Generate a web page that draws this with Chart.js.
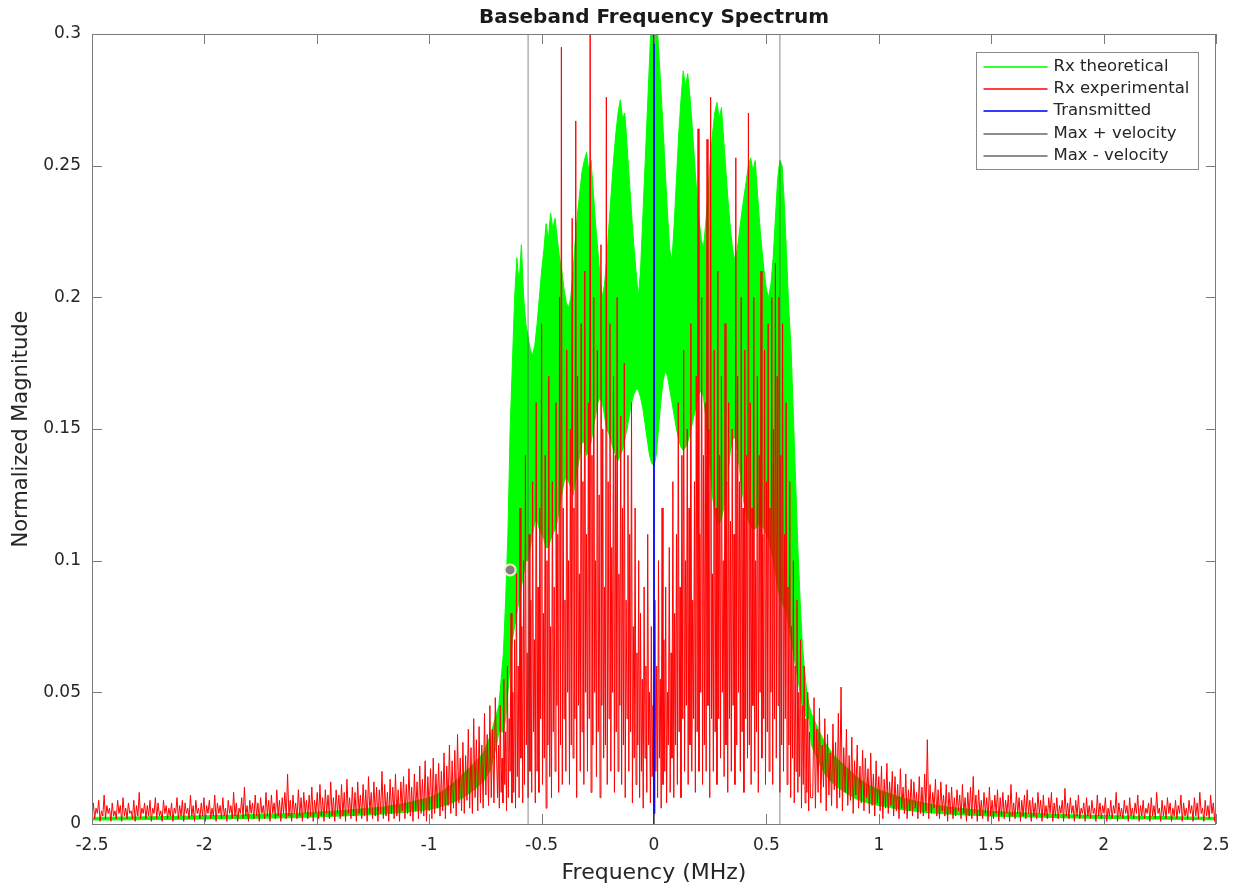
<!DOCTYPE html>
<html>
<head>
<meta charset="utf-8">
<title>Baseband Frequency Spectrum</title>
<script src="https://cdn.jsdelivr.net/npm/chart.js"></script>
<style>
  html, body { margin: 0; padding: 0; background: #fff; }
  #wrap { width: 1244px; height: 890px; }
</style>
</head>
<body>
<div id="wrap"><canvas id="spectrum" width="1244" height="890"></canvas></div>
<script>
// ---- data (frequency in MHz, normalized magnitude) ----

// Rx theoretical: tails outside the band, filled envelope inside it
const greenTailLeftFreq = [-2.5, -2.2, -1.9, -1.6, -1.4, -1.2, -1.1, -1.0, -0.95, -0.9, -0.85, -0.8, -0.76, -0.73, -0.70];
const greenTailLeftUpper = [0.0025, 0.0028, 0.0033, 0.004, 0.005, 0.0065, 0.008, 0.01, 0.012, 0.015, 0.019, 0.023, 0.027, 0.033, 0.042];
const greenTailLeftLower = [0.0015, 0.0017, 0.002, 0.0024, 0.003, 0.0038, 0.0045, 0.0055, 0.0065, 0.008, 0.01, 0.013, 0.016, 0.02, 0.03];
const greenTailRightFreq = [0.70, 0.73, 0.76, 0.8, 0.85, 0.9, 0.95, 1.0, 1.1, 1.2, 1.3, 1.5, 1.8, 2.1, 2.5];
const greenTailRightUpper = [0.042, 0.036, 0.031, 0.026, 0.022, 0.018, 0.015, 0.013, 0.01, 0.008, 0.0065, 0.0048, 0.0036, 0.003, 0.0025];
const greenTailRightLower = [0.03, 0.024, 0.019, 0.015, 0.012, 0.0095, 0.008, 0.007, 0.0055, 0.0045, 0.0038, 0.003, 0.0024, 0.002, 0.0016];

const greenBandStart = -0.69, greenBandStep = 0.01; // -0.69 .. 0.69
const greenBandUpper = [
  0.045, 0.055, 0.065, 0.085, 0.11, 0.15, 0.175, 0.2, 0.215, 0.205, 0.22, 0.2, 0.19, 0.185, 0.18, 0.178, 0.182, 0.19, 0.2, 0.21,
  0.218, 0.228, 0.222, 0.232, 0.226, 0.23, 0.222, 0.215, 0.21, 0.203, 0.198, 0.196, 0.2, 0.21, 0.222, 0.232, 0.24, 0.248, 0.252, 0.255,
  0.248, 0.252, 0.24, 0.228, 0.218, 0.208, 0.2, 0.205, 0.215, 0.228, 0.24, 0.252, 0.262, 0.27, 0.275, 0.268, 0.27, 0.258, 0.245, 0.232,
  0.22, 0.21, 0.2, 0.21, 0.23, 0.25, 0.27, 0.29, 0.31, 0.32, 0.31, 0.295, 0.28, 0.265, 0.248, 0.232, 0.218, 0.214, 0.228, 0.245,
  0.262, 0.275, 0.286, 0.28, 0.285, 0.276, 0.265, 0.252, 0.24, 0.23, 0.222, 0.219, 0.228, 0.24, 0.252, 0.262, 0.27, 0.274, 0.268, 0.272,
  0.26, 0.248, 0.236, 0.226, 0.218, 0.214, 0.218, 0.225, 0.232, 0.238, 0.244, 0.25, 0.253, 0.248, 0.252, 0.24, 0.228, 0.218, 0.21, 0.203,
  0.2, 0.205, 0.215, 0.23, 0.245, 0.252, 0.25, 0.235, 0.215, 0.195, 0.18, 0.155, 0.13, 0.105, 0.085, 0.068, 0.058, 0.05, 0.045
];
const greenBandLower = [
  0.035, 0.035, 0.035, 0.04, 0.05, 0.06, 0.07, 0.075, 0.08, 0.085, 0.09, 0.095, 0.1, 0.1, 0.105, 0.11, 0.115, 0.115, 0.112, 0.11,
  0.108, 0.105, 0.105, 0.108, 0.11, 0.112, 0.115, 0.12, 0.125, 0.13, 0.132, 0.13, 0.128, 0.125, 0.13, 0.135, 0.14, 0.145, 0.145, 0.14,
  0.142, 0.145, 0.15, 0.155, 0.16, 0.162, 0.16, 0.155, 0.15, 0.148, 0.145, 0.142, 0.14, 0.138, 0.14, 0.142, 0.146, 0.15, 0.155, 0.16,
  0.163, 0.165, 0.165, 0.162, 0.158, 0.152, 0.146, 0.14, 0.137, 0.136, 0.14, 0.15, 0.16, 0.168, 0.172, 0.17, 0.165, 0.16, 0.155, 0.15,
  0.146, 0.143, 0.142, 0.143, 0.145, 0.148, 0.152, 0.156, 0.16, 0.163, 0.165, 0.162, 0.155, 0.145, 0.135, 0.125, 0.118, 0.115, 0.114, 0.116,
  0.12, 0.126, 0.134, 0.142, 0.146, 0.147, 0.142, 0.135, 0.128, 0.122, 0.118, 0.115, 0.113, 0.112, 0.112, 0.113, 0.114, 0.113, 0.112, 0.11,
  0.108, 0.104, 0.1, 0.095, 0.09, 0.086, 0.084, 0.082, 0.08, 0.075, 0.07, 0.065, 0.06, 0.055, 0.05, 0.045, 0.042, 0.04, 0.04
];

// Rx experimental: noise floor on both sides, dense spikes in the band
const redNoiseStep = 0.006;
const redLeftStart = -2.5;  // -2.5 .. -0.706
const redLeft = [
  0.003,0.008,0.002,0.006,0.004,0.009,0.001,0.005,0.003,0.011,0.002,0.007,0.004,0.006,0.001,0.008,0.003,0.005,0.002,0.009,
  0.004,0.007,0.001,0.01,0.003,0.006,0.002,0.008,0.004,0.005,0.002,0.009,0.001,0.007,0.003,0.012,0.002,0.006,0.004,0.008,
  0.002,0.007,0.003,0.009,0.001,0.006,0.004,0.01,0.002,0.008,0.003,0.005,0.001,0.009,0.004,0.007,0.002,0.006,0.003,0.008,
  0.001,0.006,0.004,0.01,0.002,0.007,0.003,0.009,0.001,0.008,0.004,0.006,0.002,0.011,0.003,0.007,0.001,0.009,0.004,0.006,
  0.002,0.008,0.003,0.01,0.001,0.007,0.004,0.009,0.002,0.006,0.003,0.011,0.001,0.008,0.004,0.007,0.002,0.01,0.003,0.006,
  0.001,0.009,0.004,0.007,0.002,0.012,0.003,0.008,0.001,0.006,0.004,0.01,0.002,0.014,0.003,0.007,0.001,0.009,0.004,0.008,
  0.002,0.011,0.003,0.008,0.001,0.01,0.004,0.007,0.002,0.012,0.003,0.009,0.001,0.011,0.004,0.008,0.002,0.013,0.003,0.009,
  0.001,0.01,0.004,0.012,0.002,0.019,0.003,0.009,0.001,0.011,0.004,0.008,0.002,0.013,0.003,0.01,0.001,0.012,0.004,0.009,
  0.002,0.011,0.003,0.014,0.001,0.009,0.004,0.012,0.002,0.015,0.003,0.01,0.001,0.013,0.004,0.011,0.002,0.016,0.003,0.01,
  0.001,0.013,0.004,0.011,0.002,0.015,0.003,0.012,0.001,0.017,0.004,0.01,0.002,0.014,0.003,0.012,0.001,0.016,0.004,0.011,
  0.002,0.015,0.003,0.013,0.001,0.018,0.004,0.012,0.002,0.016,0.003,0.014,0.001,0.013,0.004,0.02,0.002,0.015,0.003,0.012,
  0.001,0.017,0.004,0.014,0.002,0.019,0.003,0.013,0.001,0.016,0.005,0.018,0.002,0.015,0.004,0.021,0.003,0.014,0.001,0.019,
  0.005,0.016,0.002,0.022,0.004,0.017,0.003,0.024,0.001,0.018,0.005,0.021,0.002,0.025,0.004,0.019,0.006,0.023,0.003,0.02,
  0.005,0.027,0.002,0.022,0.007,0.03,0.004,0.024,0.006,0.028,0.003,0.034,0.008,0.025,0.005,0.031,0.004,0.026,0.009,0.036,
  0.006,0.029,0.004,0.04,0.01,0.032,0.005,0.037,0.008,0.03,0.006,0.042,0.011,0.034,0.007,0.045,0.01,0.036,0.008,0.048
];
const redCenterStart = -0.696, redCenterStep = 0.004; // -0.696 .. 0.696
const redCenter = [
  0.01,0.03,0.006,0.045,0.012,0.025,0.008,0.055,0.015,0.035,0.005,0.06,0.01,0.04,0.02,0.08,0.008,0.05,0.012,0.07,
  0.006,0.095,0.018,0.06,0.01,0.12,0.025,0.075,0.008,0.1,0.015,0.14,0.03,0.065,0.01,0.11,0.02,0.085,0.012,0.13,
  0.035,0.07,0.008,0.16,0.02,0.09,0.012,0.12,0.04,0.19,0.015,0.08,0.025,0.14,0.006,0.1,0.03,0.17,0.018,0.075,
  0.01,0.13,0.035,0.09,0.02,0.16,0.045,0.11,0.012,0.2,0.03,0.295,0.015,0.12,0.04,0.085,0.02,0.18,0.05,0.1,
  0.015,0.15,0.03,0.23,0.025,0.12,0.04,0.267,0.01,0.17,0.045,0.095,0.02,0.19,0.035,0.13,0.015,0.21,0.05,0.11,
  0.02,0.16,0.04,0.32,0.012,0.14,0.03,0.2,0.05,0.1,0.018,0.18,0.035,0.125,0.01,0.22,0.045,0.15,0.025,0.09,
  0.03,0.276,0.015,0.13,0.04,0.19,0.02,0.105,0.05,0.17,0.012,0.14,0.035,0.2,0.02,0.095,0.045,0.155,0.015,0.12,
  0.03,0.175,0.01,0.085,0.04,0.14,0.02,0.11,0.035,0.16,0.008,0.075,0.025,0.12,0.015,0.065,0.03,0.1,0.01,0.08,
  0.02,0.055,0.006,0.09,0.025,0.06,0.012,0.11,0.03,0.05,0.008,0.075,0.018,0.045,0.004,0.085,0.02,0.06,0.01,0.1,
  0.025,0.055,0.006,0.12,0.015,0.07,0.02,0.09,0.008,0.05,0.03,0.105,0.012,0.065,0.025,0.13,0.01,0.08,0.03,0.11,
  0.015,0.16,0.035,0.09,0.01,0.14,0.04,0.18,0.02,0.1,0.045,0.15,0.015,0.12,0.03,0.19,0.02,0.085,0.04,0.13,
  0.012,0.17,0.035,0.264,0.02,0.11,0.05,0.2,0.015,0.14,0.03,0.16,0.02,0.26,0.045,0.15,0.01,0.276,0.04,0.095,
  0.02,0.18,0.035,0.12,0.015,0.21,0.04,0.14,0.025,0.17,0.05,0.1,0.018,0.19,0.03,0.13,0.012,0.16,0.04,0.115,
  0.02,0.15,0.045,0.11,0.015,0.253,0.03,0.17,0.05,0.13,0.02,0.2,0.035,0.12,0.012,0.18,0.04,0.14,0.025,0.27,
  0.03,0.16,0.015,0.12,0.045,0.2,0.02,0.1,0.035,0.17,0.012,0.14,0.05,0.21,0.025,0.11,0.04,0.18,0.015,0.13,
  0.035,0.19,0.02,0.12,0.05,0.2,0.015,0.15,0.04,0.213,0.025,0.17,0.045,0.2,0.012,0.14,0.03,0.19,0.02,0.11,
  0.04,0.16,0.015,0.09,0.03,0.13,0.01,0.075,0.025,0.1,0.008,0.06,0.02,0.085,0.012,0.05,0.018,0.07,0.006,0.045,
  0.015,0.06,0.008,0.04,0.012,0.05,0.005,0.035,0.01
];
const redRightStart = 0.706; // 0.706 .. 2.5
const redRight = [
  0.01,0.048,0.006,0.036,0.012,0.044,0.008,0.03,0.014,0.04,0.005,0.034,0.011,0.027,0.007,0.038,0.013,0.031,0.006,0.042,
  0.01,0.052,0.005,0.029,0.012,0.036,0.007,0.026,0.009,0.033,0.004,0.024,0.011,0.03,0.006,0.022,0.008,0.028,0.005,0.025,
  0.01,0.021,0.004,0.027,0.007,0.019,0.003,0.024,0.008,0.018,0.005,0.022,0.002,0.017,0.006,0.023,0.004,0.016,0.007,0.02,
  0.003,0.018,0.005,0.015,0.002,0.021,0.006,0.014,0.004,0.019,0.002,0.013,0.005,0.017,0.003,0.016,0.006,0.012,0.002,0.018,
  0.004,0.014,0.003,0.019,0.005,0.032,0.002,0.015,0.004,0.012,0.006,0.017,0.003,0.013,0.002,0.016,0.005,0.011,0.003,0.015,
  0.001,0.012,0.004,0.014,0.002,0.01,0.003,0.013,0.005,0.011,0.002,0.015,0.004,0.01,0.001,0.012,0.003,0.014,0.002,0.018,
  0.004,0.011,0.001,0.013,0.003,0.009,0.002,0.012,0.004,0.01,0.001,0.014,0.003,0.009,0.002,0.011,0.004,0.013,0.001,0.01,
  0.003,0.012,0.002,0.009,0.004,0.011,0.001,0.015,0.003,0.008,0.002,0.012,0.004,0.01,0.001,0.009,0.003,0.011,0.002,0.013,
  0.004,0.009,0.001,0.01,0.003,0.008,0.002,0.012,0.004,0.009,0.001,0.011,0.003,0.007,0.002,0.01,0.004,0.012,0.001,0.008,
  0.003,0.01,0.002,0.007,0.004,0.009,0.001,0.0135,0.003,0.008,0.002,0.01,0.004,0.007,0.001,0.009,0.003,0.011,0.002,0.006,
  0.004,0.008,0.001,0.01,0.003,0.007,0.002,0.009,0.004,0.006,0.001,0.011,0.003,0.008,0.002,0.007,0.004,0.01,0.001,0.006,
  0.003,0.009,0.002,0.007,0.004,0.012,0.001,0.008,0.003,0.006,0.002,0.009,0.004,0.007,0.001,0.01,0.003,0.006,0.002,0.008,
  0.004,0.011,0.001,0.007,0.003,0.009,0.002,0.006,0.004,0.008,0.001,0.01,0.003,0.007,0.002,0.012,0.004,0.006,0.001,0.009,
  0.003,0.007,0.002,0.01,0.004,0.008,0.001,0.006,0.003,0.009,0.002,0.007,0.004,0.011,0.001,0.008,0.003,0.006,0.002,0.009,
  0.004,0.007,0.001,0.01,0.003,0.008,0.002,0.012,0.004,0.006,0.001,0.009,0.003,0.007,0.002,0.011,0.004,0.008,0.001,0.009
];

// Transmitted tone (impulse at 0, runs off the top of the axes)
const txFreq = [0, 0];
const txMag = [0, 1];

// Max +/- velocity markers
const velocityFreq = [0.56, -0.56];
const velocityLabels = ['Max + velocity', 'Max - velocity'];

// data tip on the Rx theoretical edge
const tipFreq = [-0.64];
const tipMag = [0.0965];

const seriesLabels = ['Rx theoretical', 'Rx experimental', 'Transmitted'];
const seriesColors = ['#00ff00', '#ff0000', '#0000ff'];
const velocityColor = 'rgba(90,90,90,0.6)';

// ---- helpers ----
const FONT = '"DejaVu Sans", "Liberation Sans", Arial, sans-serif';

function gridPoints(start, step, values) {
    return values.map((v, i) => ({ x: Math.round((start + i * step) * 10000) / 10000, y: v }));
}

function pairPoints(freqs, values) {
    return values.map((v, i) => ({ x: freqs[i], y: v }));
}

function greenSeries(leftTail, band, rightTail) {
    return pairPoints(greenTailLeftFreq, leftTail)
        .concat(gridPoints(greenBandStart, greenBandStep, band))
        .concat(pairPoints(greenTailRightFreq, rightTail));
}

const redSeries = gridPoints(redLeftStart, redNoiseStep, redLeft)
    .concat(gridPoints(redCenterStart, redCenterStep, redCenter))
    .concat(gridPoints(redRightStart, redNoiseStep, redRight));

const legendItems = [
    { text: seriesLabels[0], color: '#33ff33' },
    { text: seriesLabels[1], color: '#ff4040' },
    { text: seriesLabels[2], color: '#3a3aff' },
    { text: velocityLabels[0], color: '#8c8c8c' },
    { text: velocityLabels[1], color: '#8c8c8c' }
];

// tick text like MATLAB: 0.3, 0.25, -2, -1.5 ...
const trimTick = v => String(parseFloat(Number(v).toFixed(3)));

// MATLAB style box with inward ticks on all four sides
const axesBox = {
    id: 'axesBox',
    afterDatasetsDraw(chart) {
        const { ctx, chartArea: a, scales: { x, y } } = chart;
        const len = 10;
        ctx.save();
        ctx.strokeStyle = '#7a7a7a';
        ctx.lineWidth = 1;
        ctx.beginPath();
        x.ticks.forEach(t => {
            const px = Math.round(x.getPixelForValue(t.value)) + 0.5;
            ctx.moveTo(px, a.bottom); ctx.lineTo(px, a.bottom - len);
            ctx.moveTo(px, a.top); ctx.lineTo(px, a.top + len);
        });
        y.ticks.forEach(t => {
            const py = Math.round(y.getPixelForValue(t.value)) + 0.5;
            ctx.moveTo(a.left, py); ctx.lineTo(a.left + len, py);
            ctx.moveTo(a.right, py); ctx.lineTo(a.right - len, py);
        });
        ctx.stroke();
        ctx.strokeRect(Math.round(a.left) + 0.5, Math.round(a.top) + 0.5,
            Math.round(a.right - a.left) - 1, Math.round(a.bottom - a.top));
        ctx.restore();
    }
};

// title centred over the axes, not the canvas
const axesTitle = {
    id: 'axesTitle',
    afterDraw(chart) {
        const { ctx, chartArea: a } = chart;
        ctx.save();
        ctx.font = 'bold 20px ' + FONT;
        ctx.fillStyle = '#1a1a1a';
        ctx.textAlign = 'center';
        ctx.textBaseline = 'middle';
        ctx.fillText('Baseband Frequency Spectrum', (a.left + a.right) / 2, a.top - 16);
        ctx.restore();
    }
};

// boxed legend in the top right corner of the axes
const boxLegend = {
    id: 'boxLegend',
    afterDraw(chart) {
        const { ctx, chartArea: a } = chart;
        const rowH = 22.4, lineLen = 64, textGap = 6;
        ctx.save();
        ctx.font = '16.5px ' + FONT;
        const textW = Math.max(...legendItems.map(d => ctx.measureText(d.text).width));
        const w = Math.round(7 + lineLen + textGap + textW + 9);
        const h = Math.round(legendItems.length * rowH + 5);
        const left = Math.round(a.right - 18 - w) + 0.5;
        const top = Math.round(a.top + 18) + 0.5;
        ctx.fillStyle = '#fff';
        ctx.fillRect(left, top, w, h);
        ctx.strokeStyle = '#8a8a8a';
        ctx.lineWidth = 1;
        ctx.strokeRect(left, top, w, h);
        ctx.textBaseline = 'middle';
        legendItems.forEach((d, i) => {
            const cy = Math.round(top + 14 + i * rowH);
            ctx.strokeStyle = d.color;
            ctx.lineWidth = 2;
            ctx.beginPath();
            ctx.moveTo(left + 7, cy);
            ctx.lineTo(left + 7 + lineLen, cy);
            ctx.stroke();
            ctx.fillStyle = '#262626';
            ctx.fillText(d.text, left + 7 + lineLen + textGap, cy);
        });
        ctx.restore();
    }
};

const ctx = document.getElementById('spectrum').getContext('2d');
new Chart(ctx, {
    type: 'line',
    data: {
        datasets: [
            { label: seriesLabels[0], data: greenSeries(greenTailLeftUpper, greenBandUpper, greenTailRightUpper),
              borderColor: seriesColors[0], backgroundColor: seriesColors[0], borderWidth: 1, fill: 1, order: 10 },
            { data: greenSeries(greenTailLeftLower, greenBandLower, greenTailRightLower),
              borderColor: seriesColors[0], borderWidth: 1, fill: false, order: 9 },
            { label: seriesLabels[1], data: redSeries, borderColor: seriesColors[1], borderWidth: 1, fill: false, order: 5 },
            { label: seriesLabels[2], data: pairPoints(txFreq, txMag), borderColor: seriesColors[2], borderWidth: 1.8,
              fill: false, order: 3 },
            { label: velocityLabels[0], data: pairPoints([velocityFreq[0], velocityFreq[0]], [0, 0.3]),
              borderColor: velocityColor, borderWidth: 1.2, fill: false, order: 2 },
            { label: velocityLabels[1], data: pairPoints([velocityFreq[1], velocityFreq[1]], [0, 0.3]),
              borderColor: velocityColor, borderWidth: 1.2, fill: false, order: 2 },
            { data: pairPoints(tipFreq, tipMag), showLine: false, pointRadius: 5.5, pointBackgroundColor: '#7f7f7f',
              pointBorderColor: '#f3efd8', pointBorderWidth: 2, order: 1 }
        ]
    },
    options: {
        responsive: false,
        animation: false,
        events: [],
        devicePixelRatio: 1,
        layout: { padding: { left: 0, right: 28, top: 34, bottom: 0 } },
        elements: { point: { radius: 0 }, line: { tension: 0 } },
        plugins: { legend: { display: false }, tooltip: { enabled: false }, title: { display: false } },
        scales: {
            x: {
                type: 'linear', min: -2.5, max: 2.5,
                afterFit: s => { s.height = 66; },
                grid: { display: false, drawTicks: false },
                border: { display: false },
                ticks: { stepSize: 0.5, autoSkip: false, maxRotation: 0, padding: 11, callback: trimTick,
                         color: '#262626', font: { family: FONT, size: 17 } },
                title: { display: true, text: 'Frequency (MHz)', color: '#262626',
                         font: { family: FONT, size: 22 }, padding: { top: 0, bottom: 4 } }
            },
            y: {
                type: 'linear', min: 0, max: 0.3,
                afterFit: s => { s.width = 92; },
                grid: { display: false, drawTicks: false },
                border: { display: false },
                ticks: { stepSize: 0.05, padding: 11, callback: trimTick,
                         color: '#262626', font: { family: FONT, size: 17 } },
                title: { display: true, text: 'Normalized Magnitude', color: '#262626',
                         font: { family: FONT, size: 21 }, padding: { top: 9, bottom: 0 } }
            }
        }
    },
    plugins: [axesBox, axesTitle, boxLegend]
});
</script>
</body>
</html>
